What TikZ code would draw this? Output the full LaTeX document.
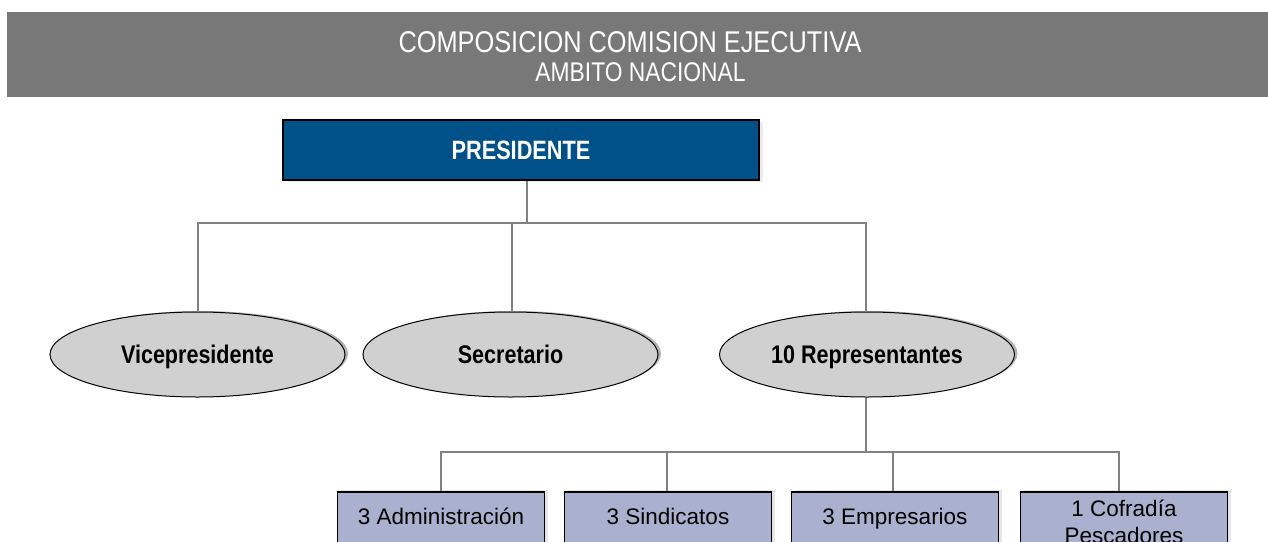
\documentclass[tikz,border=0pt]{standalone}
\usepackage{fontspec}
\setmainfont{Liberation Sans}
\newfontfamily\narrowfont[FakeStretch=0.82]{Liberation Sans}
\newfontfamily\titlefont[FakeStretch=0.845]{Liberation Sans}
\usetikzlibrary{shapes.geometric,shadows}
\definecolor{banner}{HTML}{787878}
\definecolor{presblue}{HTML}{00508A}
\definecolor{ovalgray}{HTML}{D0D0D0}
\definecolor{repblue}{HTML}{A9B1CE}
\definecolor{linkgray}{HTML}{808080}
\tikzset{
  presbox/.style={draw=black,line width=1.5pt,fill=presblue,text=white,
    minimum width=476,minimum height=60,inner sep=0,
    font=\narrowfont\fontsize{26.5}{30}\selectfont\bfseries,
    drop shadow={shadow xshift=4pt,shadow yshift=-2pt,fill=black!15}},
  cargo/.style={ellipse,draw=black,line width=1pt,fill=ovalgray,
    minimum width=295,minimum height=85,inner sep=0,
    text height=18,text depth=0,
    font=\titlefont\fontsize{25.5}{28}\selectfont\bfseries,
    drop shadow={shadow xshift=3pt,shadow yshift=1pt,fill=black!60}},
  sector/.style={draw=black,line width=1.5pt,fill=repblue,
    minimum width=207,minimum height=53,inner sep=0,align=center,
    text height=16,text depth=5,
    font=\fontsize{22.5}{27}\selectfont,
    drop shadow={shadow xshift=3pt,shadow yshift=2pt,fill=black!20}},
  link/.style={draw=linkgray,line width=2pt}
}
\begin{document}
\begin{tikzpicture}[x=1pt,y=-1pt]
  \clip (0,0) rectangle (1268,541);
  \fill[banner] (7,12) rectangle (1268,97);
  \node[text=white,font=\titlefont\fontsize{30}{32}\selectfont] (title) at (630,42.5) {COMPOSICION COMISION EJECUTIVA};
  \node[text=white,font=\titlefont\fontsize{27}{28}\selectfont] (ambito) at (640.5,72) {AMBITO NACIONAL};
  % presidente y cargos
  \node[presbox] (pres) at (521,150) {PRESIDENTE};
  \node[cargo] (vice) at (197.5,354.5) {Vicepresidente};
  \node[cargo] (secr) at (510.5,354.5) {Secretario};
  \node[cargo] (repr) at (867,354.5) {10 Representantes};
  % representantes
  \node[sector] (admin) at (441,518.5) {3 Administraci\'on};
  \node[sector] (sindic) at (668,518.5) {3 Sindicatos};
  \node[sector] (empres) at (895,518.5) {3 Empresarios};
  \node[sector,text height=43,minimum height=64] (cofrad) at (1124,524) {1 Cofrad\'ia\\Pescadores};
  % conectores
  \coordinate (top) at (527,223);
  \coordinate (low) at (866,452);
  \draw[link] (pres.south -| top) -- (top);
  \foreach \c/\x in {vice/198,secr/512,repr/866}
    \draw[link] (top) -| (\x,0 |- \c.north);
  \draw[link] (repr.south -| low) -- (low);
  \foreach \s/\x in {admin/441,sindic/667,empres/893,cofrad/1119}
    \draw[link] (low) -| (\x,0 |- \s.north);
\end{tikzpicture}
\end{document}
